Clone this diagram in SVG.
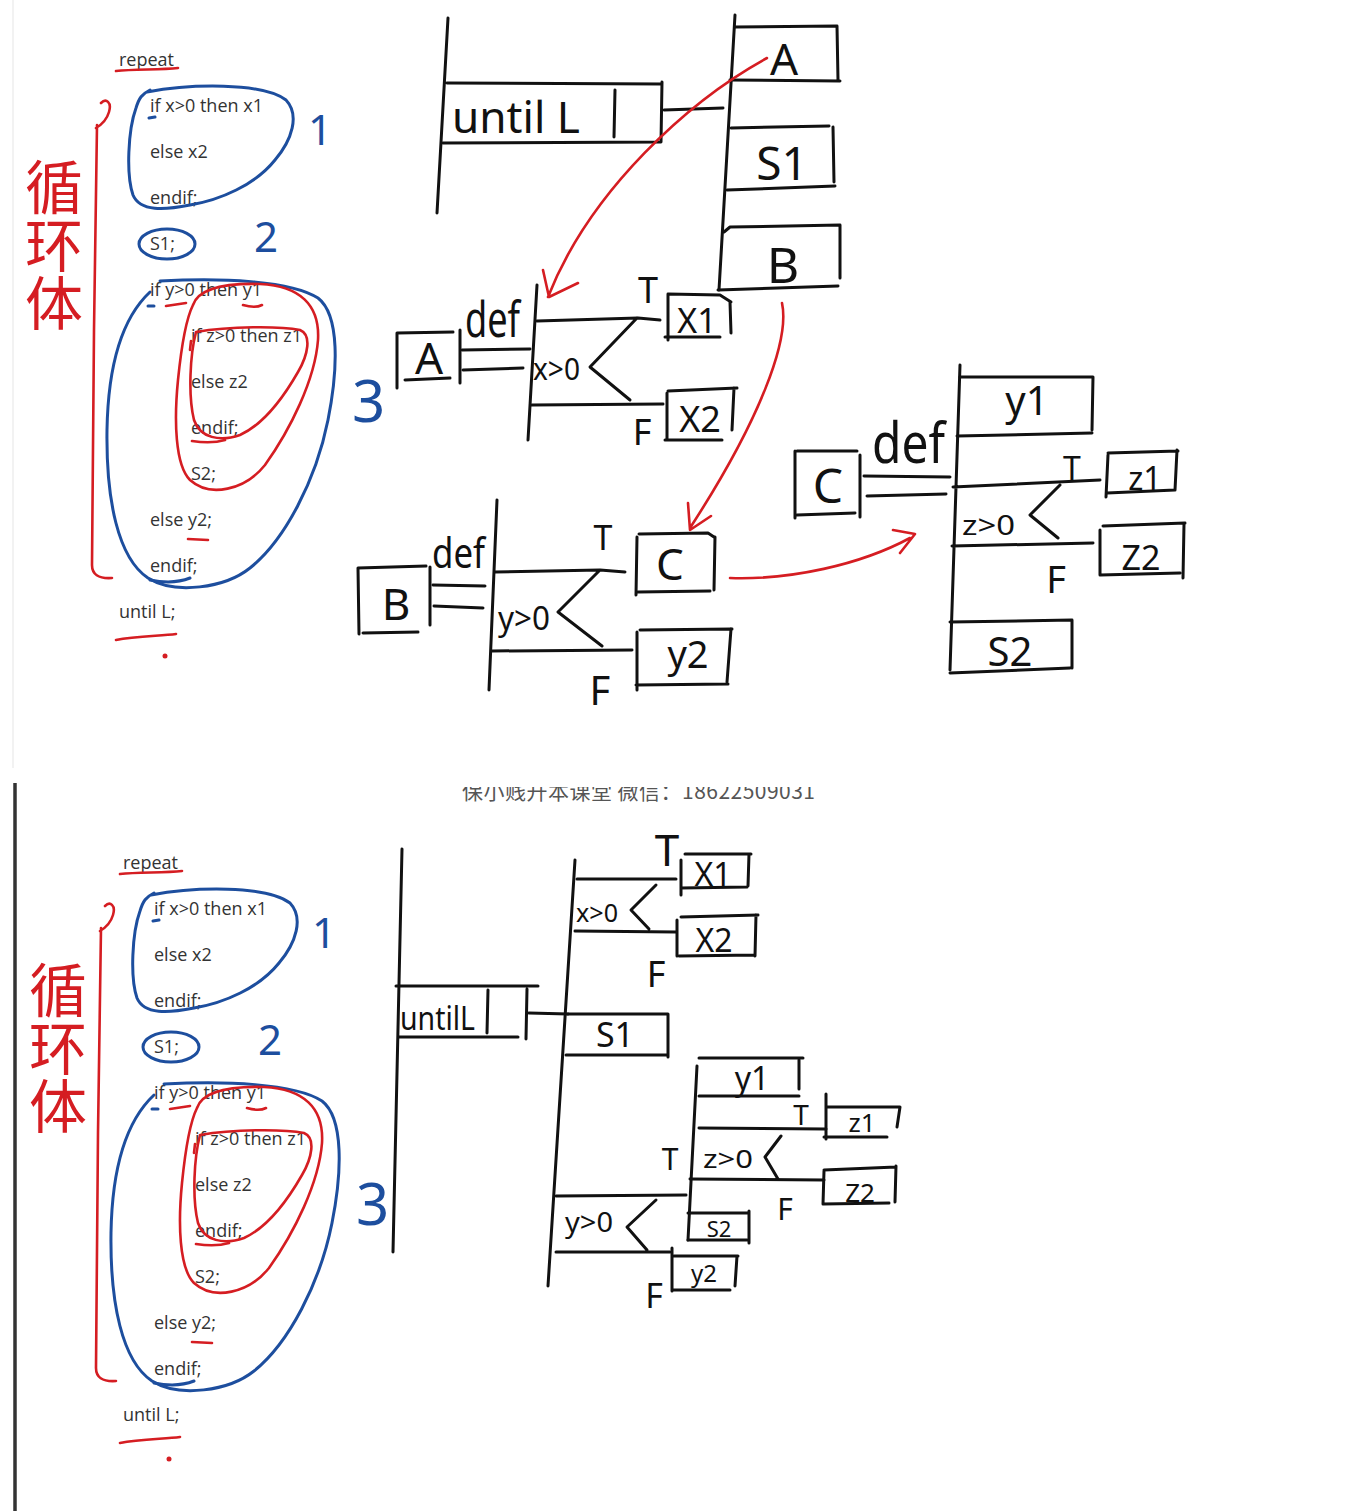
<svg xmlns="http://www.w3.org/2000/svg" width="1362" height="1511" viewBox="0 0 1362 1511">
<defs>
<style>
.ln{stroke:#111;stroke-width:3;fill:none;stroke-linecap:round;stroke-linejoin:round}
.rd{stroke:#d51d22;stroke-width:2.6;fill:none;stroke-linecap:round;stroke-linejoin:round}
.bl{stroke:#1d4e9e;stroke-width:3;fill:none;stroke-linecap:round;stroke-linejoin:round}
.code{font-family:"Open Sans","Liberation Sans",sans-serif;font-size:18px;fill:#333}
.hw{font-family:"Noto Sans","DejaVu Sans",sans-serif;fill:#111}
.num{font-family:"Noto Sans","DejaVu Sans",sans-serif;fill:#1d4e9e}
.cn{font-family:"Noto Sans CJK SC","Noto Sans CJK JP",sans-serif;fill:#d51d22;font-size:58px;writing-mode:vertical-rl}
.wm{font-family:"Noto Sans CJK SC","Liberation Sans",sans-serif;font-size:21px;fill:#555}
</style>
<clipPath id="wmclip"><rect x="400" y="787" width="500" height="30"/></clipPath>
</defs>
<rect width="1362" height="1511" fill="#fff"/>
<line x1="13" y1="0" x2="13" y2="768" stroke="#eee" stroke-width="1.5"/>
<line x1="15" y1="783" x2="15" y2="1511" stroke="#333" stroke-width="3.5"/>

<!-- ===== TOP PANEL CODE ===== -->
<g id="code-top">
<text class="code" x="119" y="66">repeat</text>
<text class="code" x="150" y="112">if x&gt;0 then x1</text>
<text class="code" x="150" y="158">else x2</text>
<text class="code" x="150" y="204">endif;</text>
<text class="code" x="150" y="250">S1;</text>
<text class="code" x="150" y="296">if y&gt;0 then y1</text>
<text class="code" x="191" y="342">if z&gt;0 then z1</text>
<text class="code" x="191" y="388">else z2</text>
<text class="code" x="191" y="434">endif;</text>
<text class="code" x="191" y="480">S2;</text>
<text class="code" x="150" y="526">else y2;</text>
<text class="code" x="150" y="572">endif;</text>
<text class="code" x="119" y="618">until L;</text>
<path class="bl" d="M147,92 C190,84 262,82 286,100 C300,115 292,140 275,160 C255,185 220,200 190,205 C165,210 140,212 133,195 C126,175 128,130 136,108 C139,98 142,94 150,90"/>
<ellipse class="bl" cx="167" cy="244" rx="28" ry="15"/>
<path class="bl" d="M160,281 C220,278 290,280 318,298 C340,315 338,370 328,420 C316,480 285,540 250,568 C225,588 175,595 148,578 C118,558 106,500 107,430 C108,370 120,320 150,292"/>
<path class="bl" d="M149,118 L155,117 M148,306 L154,306 M150,580 C165,583 180,582 190,578"/>
<path class="rd" d="M193,305 C198,290 220,283 260,284 C300,286 320,305 318,340 C315,380 290,430 265,465 C245,490 210,498 190,480 C175,465 174,420 178,380 C182,340 188,315 193,305"/>
<path class="rd" d="M196,332 C230,326 280,326 300,330 C312,335 308,355 298,372 C282,400 262,425 240,435 C220,442 200,438 194,420 C188,395 190,355 196,332"/>
<path class="rd" d="M101,103 C106,98 112,102 109,112 C107,119 101,125 96,128 M97,125 L94,330 L92,565 C92,574 98,579 112,578"/>
<path class="rd" d="M116,71 C135,69 160,70 178,68 M166,306 L186,303 M243,305 C250,307 258,307 262,305 M192,441 C205,443 215,443 225,440 M188,539 L208,540 M116,640 C135,636 160,636 176,634 M191,341 L190,350"/>
<circle cx="165" cy="656" r="2.5" fill="#d51d22"/>
<text class="cn" x="54" y="158">循环体</text>
<text class="num" x="308" y="145" font-size="42">1</text>
<text class="num" x="254" y="252" font-size="42">2</text>
<text class="num" x="352" y="422" font-size="58">3</text>
</g>

<!-- ===== TOP PANEL DIAGRAM ===== -->
<g id="top-until">
<path class="ln" d="M448,18 L437,213 M447,83 L662,84 M443,143 L660,142 M662,82 L661,142 M615,90 L614,137"/>
<text class="hw" x="452" y="133" font-size="44" textLength="128" lengthAdjust="spacingAndGlyphs">until L</text>
</g>
<g id="top-seq">
<path class="ln" d="M735,15 L719,290"/>
</g>
<g id="top-A">
<path class="ln" d="M735,27 L837,26 L838,80 M730,80 L840,81"/>
<text class="hw" x="784" y="75" font-size="44" text-anchor="middle">A</text>
</g>
<g id="top-S1">
<path class="ln" d="M731,128 L829,126 M833,127 L834,182 M727,190 L835,186"/>
<text class="hw" x="782" y="180" font-size="46" text-anchor="middle">S1</text>
</g>
<g id="top-B">
<path class="ln" d="M724,232 L730,227 L840,225 L840,278 M718,290 L838,286"/>
<text class="hw" x="783" y="283" font-size="50" text-anchor="middle">B</text>
</g>

<g id="defA">
<path class="ln" d="M397,333 L397,388 M397,333 L453,332 M460,330 L460,383 M405,380 L450,378"/>
<text class="hw" x="429" y="374" font-size="44" text-anchor="middle">A</text>
<text class="hw" x="465" y="337" font-size="50" textLength="55" lengthAdjust="spacingAndGlyphs">def</text>
<path class="ln" d="M537,285 L528,440 M537,321 L638,318 L660,320 M637,318 L590,367 L630,400 M532,405 L663,404"/>
<text class="hw" x="533" y="380" font-size="30" textLength="47" lengthAdjust="spacingAndGlyphs">x&gt;0</text>
<text class="hw" x="648" y="303" font-size="36" text-anchor="middle">T</text>
<text class="hw" x="642" y="445" font-size="36" text-anchor="middle">F</text>
</g>
<g id="defA-X1">
<path class="ln" d="M668,294 L668,340 M668,294 L720,295 L731,302 M730,302 L731,333 M665,337 L720,337"/>
<text class="hw" x="697" y="333" font-size="34" text-anchor="middle">X1</text>
</g>
<g id="defA-X2">
<path class="ln" d="M667,393 L667,440 M668,391 L737,388 M734,388 L732,430 M665,440 L722,440"/>
<text class="hw" x="700" y="432" font-size="36" text-anchor="middle">X2</text>
</g>

<g id="defB">
<path class="ln" d="M358,568 L359,634 M358,568 L426,566 M430,567 L430,625 M363,633 L418,632"/>
<text class="hw" x="396" y="620" font-size="44" text-anchor="middle">B</text>
<text class="hw" x="432" y="568" font-size="42" textLength="53" lengthAdjust="spacingAndGlyphs">def</text>
<path class="ln" d="M497,500 L489,690 M495,572 L600,570 L625,572 M600,570 L558,612 L602,646 M492,651 L632,650"/>
<text class="hw" x="498" y="630" font-size="32" textLength="52" lengthAdjust="spacingAndGlyphs">y&gt;0</text>
<text class="hw" x="603" y="550" font-size="34" text-anchor="middle">T</text>
<text class="hw" x="600" y="705" font-size="40" text-anchor="middle">F</text>
</g>
<g id="defB-C">
<path class="ln" d="M637,537 L636,595 M639,534 L708,533 L714,537 M715,537 L714,590 M638,592 L710,591"/>
<text class="hw" x="670" y="580" font-size="44" text-anchor="middle">C</text>
</g>
<g id="defB-y2">
<path class="ln" d="M637,632 L637,690 M640,630 L732,629 M731,629 L727,682 M636,685 L728,684"/>
<text class="hw" x="688" y="668" font-size="38" text-anchor="middle">y2</text>
</g>

<g id="defC">
<path class="ln" d="M795,451 L795,518 M797,451 L857,451 M860,455 L860,517 M797,515 L855,513"/>
<text class="hw" x="828" y="503" font-size="48" text-anchor="middle">C</text>
<text class="hw" x="872" y="463" font-size="56" textLength="73" lengthAdjust="spacingAndGlyphs">def</text>
<path class="ln" d="M960,365 L950,670 M953,487 L1100,480 M1060,485 L1030,515 L1058,538 M952,546 L1093,543"/>
<text class="hw" x="962" y="535" font-size="28" textLength="53" lengthAdjust="spacingAndGlyphs">z&gt;0</text>
<text class="hw" x="1072" y="480" font-size="32" text-anchor="middle">T</text>
<text class="hw" x="1056" y="593" font-size="38" text-anchor="middle">F</text>
</g>
<g id="defC-y1">
<path class="ln" d="M960,377 L1093,377 M1093,377 L1092,430 M957,436 L1092,433"/>
<text class="hw" x="1027" y="415" font-size="40" text-anchor="middle">y1</text>
</g>
<g id="defC-z1">
<path class="ln" d="M1108,455 L1106,497 M1108,453 L1178,451 M1177,450 L1175,490 M1107,493 L1175,490"/>
<text class="hw" x="1145" y="490" font-size="32" text-anchor="middle">z1</text>
</g>
<g id="defC-Z2">
<path class="ln" d="M1100,530 L1100,575 M1103,526 L1185,523 M1184,524 L1183,578 M1100,575 L1180,573"/>
<text class="hw" x="1141" y="570" font-size="34" text-anchor="middle">Z2</text>
</g>
<g id="defC-S2">
<path class="ln" d="M950,622 L1072,620 M1072,620 L1072,668 M950,673 L1070,668"/>
<text class="hw" x="1010" y="666" font-size="40" text-anchor="middle">S2</text>
</g>

<g id="connectors-top">
<path class="ln" d="M664,110 L723,108 M462,350 L530,349 M463,370 L523,368 M433,585 L485,586 M434,606 L483,608 M864,476 L950,477 M867,496 L946,494"/>
<path class="rd" d="M767,58 C690,100 590,190 548,297 M543,270 L549,297 L578,283"/>
<path class="rd" d="M782,303 C790,340 760,420 690,528 M688,503 L690,530 L711,516"/>
<path class="rd" d="M730,578 C790,580 860,565 910,538 M893,530 L915,534 L900,553"/>
</g>

<!-- watermark -->
<text class="wm" x="462" y="799" textLength="353" clip-path="url(#wmclip)">保小贱升本课堂  微信：18622509031</text>

<!-- ===== BOTTOM PANEL CODE ===== -->
<g id="code-bottom" transform="translate(4,803)">
<text class="code" x="119" y="66">repeat</text>
<text class="code" x="150" y="112">if x&gt;0 then x1</text>
<text class="code" x="150" y="158">else x2</text>
<text class="code" x="150" y="204">endif;</text>
<text class="code" x="150" y="250">S1;</text>
<text class="code" x="150" y="296">if y&gt;0 then y1</text>
<text class="code" x="191" y="342">if z&gt;0 then z1</text>
<text class="code" x="191" y="388">else z2</text>
<text class="code" x="191" y="434">endif;</text>
<text class="code" x="191" y="480">S2;</text>
<text class="code" x="150" y="526">else y2;</text>
<text class="code" x="150" y="572">endif;</text>
<text class="code" x="119" y="618">until L;</text>
<path class="bl" d="M147,92 C190,84 262,82 286,100 C300,115 292,140 275,160 C255,185 220,200 190,205 C165,210 140,212 133,195 C126,175 128,130 136,108 C139,98 142,94 150,90"/>
<ellipse class="bl" cx="167" cy="244" rx="28" ry="15"/>
<path class="bl" d="M160,281 C220,278 290,280 318,298 C340,315 338,370 328,420 C316,480 285,540 250,568 C225,588 175,595 148,578 C118,558 106,500 107,430 C108,370 120,320 150,292"/>
<path class="bl" d="M149,118 L155,117 M148,306 L154,306 M150,580 C165,583 180,582 190,578"/>
<path class="rd" d="M193,305 C198,290 220,283 260,284 C300,286 320,305 318,340 C315,380 290,430 265,465 C245,490 210,498 190,480 C175,465 174,420 178,380 C182,340 188,315 193,305"/>
<path class="rd" d="M196,332 C230,326 280,326 300,330 C312,335 308,355 298,372 C282,400 262,425 240,435 C220,442 200,438 194,420 C188,395 190,355 196,332"/>
<path class="rd" d="M101,103 C106,98 112,102 109,112 C107,119 101,125 96,128 M97,125 L94,330 L92,565 C92,574 98,579 112,578"/>
<path class="rd" d="M116,71 C135,69 160,70 178,68 M166,306 L186,303 M243,305 C250,307 258,307 262,305 M192,441 C205,443 215,443 225,440 M188,539 L208,540 M116,640 C135,636 160,636 176,634 M191,341 L190,350"/>
<circle cx="165" cy="656" r="2.5" fill="#d51d22"/>
<text class="cn" x="54" y="158">循环体</text>
<text class="num" x="308" y="145" font-size="42">1</text>
<text class="num" x="254" y="252" font-size="42">2</text>
<text class="num" x="352" y="422" font-size="58">3</text>
</g>

<!-- ===== BOTTOM PANEL DIAGRAM ===== -->
<g id="bot-until">
<path class="ln" d="M402,849 L393,1252 M396,986 L538,986 M398,1037 L518,1037 M527,989 L526,1039 M488,990 L487,1033"/>
<text class="hw" x="400" y="1030" font-size="32" textLength="75" lengthAdjust="spacingAndGlyphs">untilL</text>
</g>
<g id="bot-seq">
<path class="ln" d="M575,860 L548,1286"/>
</g>
<g id="bot-x">
<path class="ln" d="M577,879 L676,879 M656,885 L631,910 L649,929 M575,931 L676,932"/>
<text class="hw" x="576" y="922" font-size="26" textLength="42" lengthAdjust="spacingAndGlyphs">x&gt;0</text>
<text class="hw" x="667" y="866" font-size="44" text-anchor="middle">T</text>
<text class="hw" x="656" y="987" font-size="36" text-anchor="middle">F</text>
</g>
<g id="bot-X1">
<path class="ln" d="M681,860 L681,895 M685,854 L751,854 M749,854 L748,886 M681,888 L747,887"/>
<text class="hw" x="713" y="886" font-size="32" text-anchor="middle">X1</text>
</g>
<g id="bot-X2">
<path class="ln" d="M677,920 L677,956 M681,917 L758,915 M756,915 L755,956 M679,956 L755,955"/>
<text class="hw" x="714" y="952" font-size="32" text-anchor="middle">X2</text>
</g>
<g id="bot-S1">
<path class="ln" d="M568,1014 L668,1014 L668,1057 M566,1055 L668,1055"/>
<text class="hw" x="615" y="1047" font-size="34" text-anchor="middle">S1</text>
</g>
<g id="bot-y">
<path class="ln" d="M697,1066 L688,1240 M556,1196 L686,1195 M656,1200 L627,1227 L647,1250 M556,1252 L670,1252"/>
<text class="hw" x="565" y="1232" font-size="28" textLength="48" lengthAdjust="spacingAndGlyphs">y&gt;0</text>
<text class="hw" x="670" y="1170" font-size="30" text-anchor="middle">T</text>
<text class="hw" x="654" y="1308" font-size="34" text-anchor="middle">F</text>
</g>
<g id="bot-y1">
<path class="ln" d="M699,1058 L803,1058 M799,1060 L799,1089 M699,1096 L799,1096"/>
<text class="hw" x="752" y="1090" font-size="32" text-anchor="middle">y1</text>
</g>
<g id="bot-z">
<path class="ln" d="M699,1128 L826,1129 M781,1136 L765,1157 L778,1179 M690,1179 L824,1180"/>
<text class="hw" x="703" y="1168" font-size="26" textLength="50" lengthAdjust="spacingAndGlyphs">z&gt;0</text>
<text class="hw" x="801" y="1125" font-size="28" text-anchor="middle">T</text>
<text class="hw" x="785" y="1220" font-size="30" text-anchor="middle">F</text>
</g>
<g id="bot-z1">
<path class="ln" d="M826,1094 L826,1139 M826,1107 L900,1107 L897,1127 M824,1137 L887,1137"/>
<text class="hw" x="862" y="1132" font-size="26" text-anchor="middle">z1</text>
</g>
<g id="bot-Z2">
<path class="ln" d="M824,1171 L823,1204 M824,1170 L896,1167 M896,1166 L895,1202 M823,1204 L889,1203"/>
<text class="hw" x="860" y="1202" font-size="26" text-anchor="middle">Z2</text>
</g>
<g id="bot-S2">
<path class="ln" d="M688,1213 L749,1213 M749,1211 L749,1243 M688,1240 L747,1240"/>
<text class="hw" x="719" y="1237" font-size="22" text-anchor="middle">S2</text>
</g>
<g id="bot-y2">
<path class="ln" d="M672,1248 L672,1291 M674,1256 L738,1256 M737,1256 L735,1286 M672,1290 L730,1290"/>
<text class="hw" x="704" y="1282" font-size="24" text-anchor="middle">y2</text>
</g>
<g id="connectors-bottom">
<path class="ln" d="M529,1013 L568,1014"/>
</g>
</svg>
